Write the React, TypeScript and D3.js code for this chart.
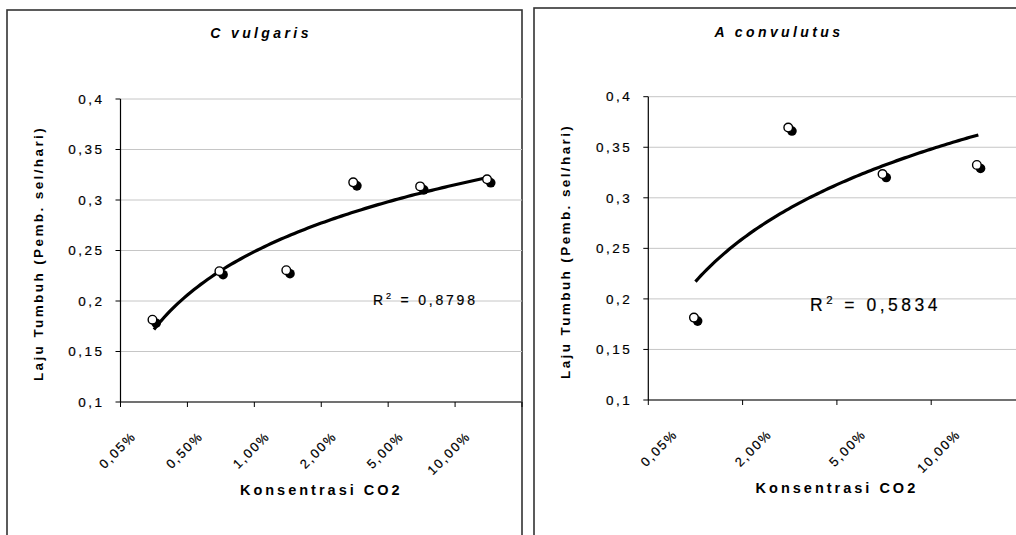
import React from "react";
import * as d3 from "d3";

// C vulgaris
const vulgarisCats = ["0,05%", "0,50%", "1,00%", "2,00%", "5,00%", "10,00%"];
const vulgarisValues = [0.18, 0.228, 0.229, 0.316, 0.312, 0.319];

// A convulutus
const convulutusCats = ["0,05%", "2,00%", "5,00%", "10,00%"];
const convulutusValues = [0.18, 0.368, 0.322, 0.331];

const yTicks = [0.1, 0.15, 0.2, 0.25, 0.3, 0.35, 0.4];

const FONT = "'Liberation Sans', Arial, sans-serif";
const fmt = (v: number) => String(v).replace(".", ",");

// excel style logarithmic trendline, x = 1..n
function logFit(vals: number[]) {
  const xs = vals.map((_, i) => Math.log(i + 1));
  const mx = d3.mean(xs) as number;
  const my = d3.mean(vals) as number;
  let sxy = 0;
  let sxx = 0;
  xs.forEach((x, i) => {
    sxy += (x - mx) * (vals[i] - my);
    sxx += (x - mx) * (x - mx);
  });
  const a = sxy / sxx;
  const b = my - a * mx;
  return (x: number) => a * Math.log(x) + b;
}

const Marker = ({ x, y }) => (
  <g>
    <circle cx={x + 2.2} cy={y + 2} r={4.8} fill="#000" />
    <circle cx={x - 1.5} cy={y - 1.5} r={4.3} fill="#fff" stroke="#000" strokeWidth={1.4} />
  </g>
);

// scanned look: text a little heavier than plain svg text
const heavy = { stroke: "#000", strokeWidth: 0.2 };

const Panel = ({ box, plot, title, titlePos, cats, values, r2, r2Pos, r2Size, yTitleX }) => {
  const x = d3.scaleBand().domain(cats).range([plot.x0, plot.x1]);
  const y = d3.scaleLinear().domain([0.1, 0.4]).range([plot.bottom, plot.top]);
  const n = cats.length;
  const fit = logFit(values);
  const xIdx = d3
    .scaleLinear()
    .domain([1, n])
    .range([x(cats[0])! + x.bandwidth() / 2, x(cats[n - 1])! + x.bandwidth() / 2]);
  const samples = d3.range(0, 101).map((i) => 1 + ((n - 1) * i) / 100);
  const line = d3
    .line<number>()
    .x((t) => xIdx(t))
    .y((t) => y(fit(t)));
  const boundaries = d3.range(0, n + 1).map((i) => plot.x0 + i * x.step());
  const midY = (plot.top + plot.bottom) / 2;
  const midX = (plot.x0 + plot.x1) / 2;

  return (
    <g fontFamily={FONT}>
      <rect x={box.x} y={box.y} width={box.w} height={box.h} fill="#fff" stroke="#333" strokeWidth={1.6} />
      <text
        x={titlePos[0]}
        y={titlePos[1]}
        textAnchor="middle"
        fontSize={14}
        fontWeight="bold"
        fontStyle="italic"
        letterSpacing={3.4}
      >
        {title}
      </text>
      {yTicks.map((t) => (
        <g key={t}>
          <line x1={plot.x0} x2={plot.x1} y1={y(t)} y2={y(t)} stroke="#c6c6c6" strokeWidth={1} />
          <line x1={plot.x0 - 5} x2={plot.x0} y1={y(t)} y2={y(t)} stroke="#000" strokeWidth={1} />
          <text x={plot.x0 - 16} y={y(t)} dy="0.35em" textAnchor="end" fontSize={13.5} letterSpacing={2.5} {...heavy}>
            {fmt(t)}
          </text>
        </g>
      ))}
      <line x1={plot.x0} x2={plot.x0} y1={plot.top} y2={plot.bottom} stroke="#000" strokeWidth={1.2} />
      <line x1={plot.x0} x2={plot.x1} y1={plot.bottom} y2={plot.bottom} stroke="#000" strokeWidth={1.2} />
      {boundaries.map((bx, i) => (
        <line key={i} x1={bx} x2={bx} y1={plot.bottom} y2={plot.bottom + 5} stroke="#000" strokeWidth={1} />
      ))}
      {cats.map((c) => {
        const cx = x(c)! + x.bandwidth() / 2 - 17;
        const cy = plot.bottom + 35;
        return (
          <text
            key={c}
            transform={`translate(${cx},${cy}) rotate(-45)`}
            textAnchor="end"
            fontSize={13}
            letterSpacing={1.8}
            {...heavy}
          >
            {c}
          </text>
        );
      })}
      <text
        transform={`translate(${yTitleX},${midY + 3}) rotate(-90)`}
        textAnchor="middle"
        fontSize={13.5}
        fontWeight="bold"
        letterSpacing={2.4}
      >
        Laju Tumbuh (Pemb. sel/hari)
      </text>
      <text
        x={midX}
        y={plot.bottom + 93}
        textAnchor="middle"
        fontSize={14.5}
        fontWeight="bold"
        letterSpacing={3}
      >
        Konsentrasi CO2
      </text>
      <path d={line(samples) ?? ""} fill="none" stroke="#000" strokeWidth={3.2} strokeLinejoin="round" />
      {values.map((v, i) => (
        <Marker key={i} x={x(cats[i])! + x.bandwidth() / 2} y={y(v)} />
      ))}
      <text x={r2Pos[0]} y={r2Pos[1]} fontSize={r2Size} letterSpacing={r2Size * 0.2} {...heavy}>
        R
        <tspan dy={-r2Size * 0.4} fontSize={r2Size * 0.65}>
          2
        </tspan>
        <tspan dy={r2Size * 0.4}>{` = ${r2}`}</tspan>
      </text>
    </g>
  );
};

export default function App() {
  return (
    <div style={{ position: "absolute", left: 0, top: 0 }}>
      <svg width={1016} height={535} style={{ display: "block", background: "#fff" }}>
        <Panel
          box={{ x: 7, y: 10, w: 515, h: 600 }}
          plot={{ x0: 120.5, x1: 522, top: 99, bottom: 402 }}
          title="C  vulgaris"
          titlePos={[261, 38]}
          cats={vulgarisCats}
          values={vulgarisValues}
          r2="0,8798"
          r2Pos={[373, 305]}
          r2Size={14}
          yTitleX={43}
        />
        <Panel
          box={{ x: 534, y: 8, w: 492, h: 600 }}
          plot={{ x0: 648.3, x1: 1025.5, top: 96.7, bottom: 400 }}
          title="A  convulutus"
          titlePos={[779, 37]}
          cats={convulutusCats}
          values={convulutusValues}
          r2="0,5834"
          r2Pos={[810, 311]}
          r2Size={17.5}
          yTitleX={570}
        />
      </svg>
    </div>
  );
}
